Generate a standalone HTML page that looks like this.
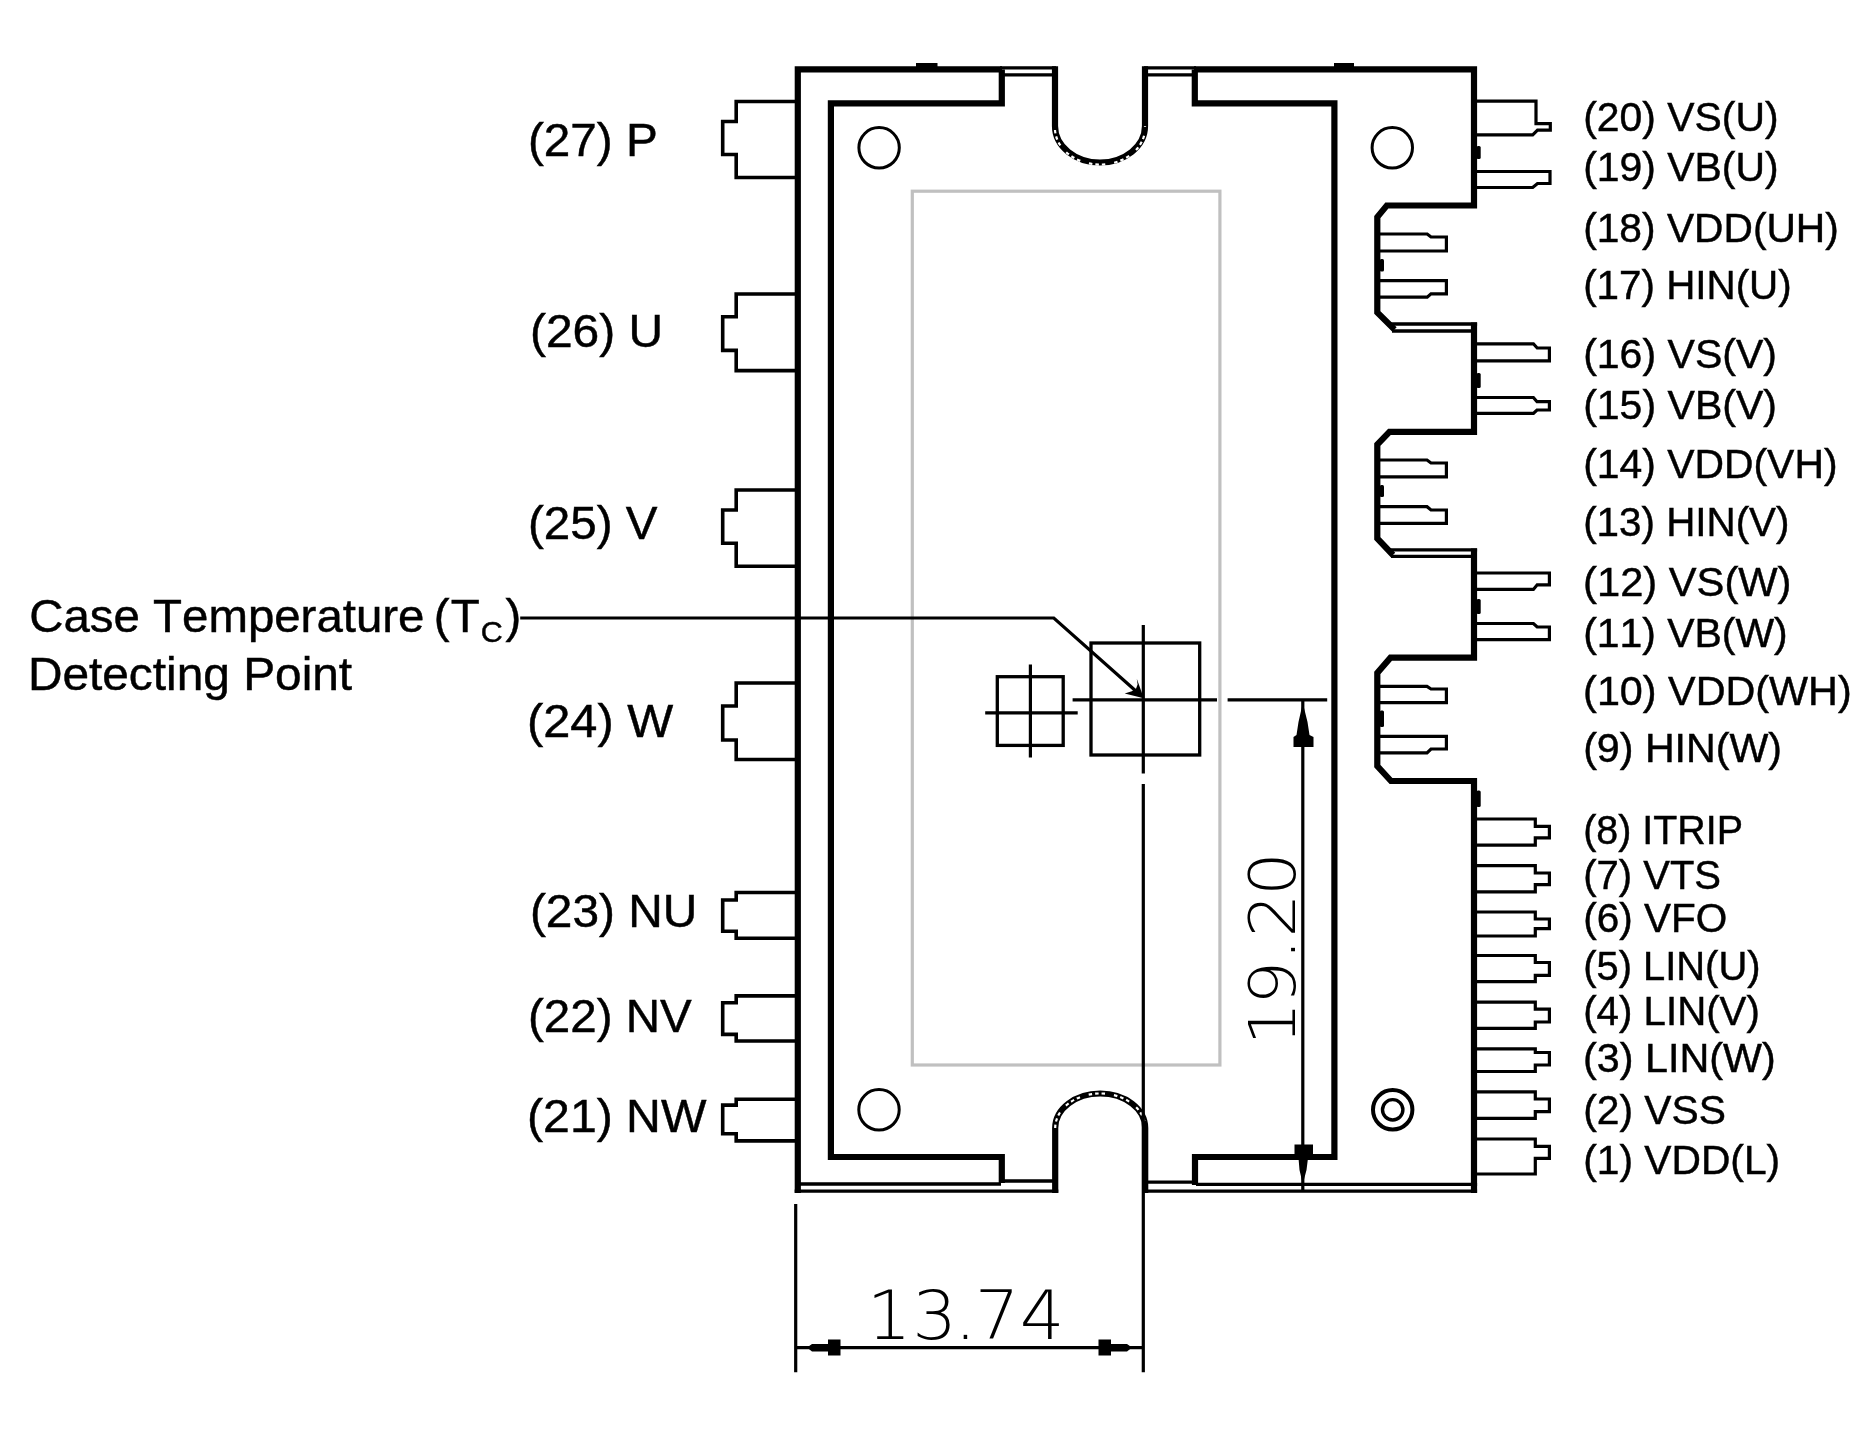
<!DOCTYPE html>
<html><head><meta charset="utf-8"><title>Pin layout</title>
<style>
html,body{margin:0;padding:0;background:#fff;}
body{width:1876px;height:1431px;overflow:hidden;}
svg{display:block;will-change:transform;}
text{font-family:"Liberation Sans",sans-serif;fill:#000;font-kerning:none;stroke:#000;stroke-width:0.45px;}
.k{stroke:#000;fill:none;stroke-linejoin:miter;stroke-linecap:butt;}
.dim{font-family:"DejaVu Sans Light","DejaVu Sans",sans-serif;font-weight:200;stroke:none;}
</style></head><body>
<svg width="1876" height="1431" viewBox="0 0 1876 1431">
<rect x="0" y="0" width="1876" height="1431" fill="#fff"/>
<g>

<rect x="912.3" y="191.2" width="307.6" height="873.8" fill="none" stroke="#c0c0c0" stroke-width="3.2"/>
<g class="k" stroke-width="6.2">
<path d="M797.8,1193 V69.4 H1002"/>
<path d="M1194,69.4 H1474.0 V205.5 H1386.8 L1377.3,217 V312.5 L1394.5,329.5"/>
<path d="M1474.0,322.5 V431.8 H1389.5 L1377.3,444.5 V538.5 L1393,555"/>
<path d="M1474.0,548.4 V657.7 H1390.5 L1377.3,673 V766 L1391,781 H1474.0 V1193"/>
<path d="M1001.8,69.4 V103.3 H830.9 V1157 H1001.8 V1183"/>
<path d="M1194.8,69.4 V103.3 H1334.4 V1157 H1195 V1185"/>
<path d="M1055,66.3 V126 A45,36.5 0 0 0 1145,126 V66.3"/>
<path d="M1055.2,1193 V1128 A45,34.5 0 0 1 1145.2,1128 V1193"/>
</g>
<g fill="none" stroke="#fff" stroke-width="2.2" stroke-dasharray="3.5 3 3.5 3 3.5 9">
<path d="M1055,130 A45,36.5 0 0 0 1145,126"/>
<path d="M1055.2,1128 A45,34.5 0 0 1 1145.2,1128"/>
</g>
<g class="k" stroke-width="3.3">
<path d="M1000,67.8 H1056 M1003,74.9 H1056 M1144,67.8 H1196 M1144,74.9 H1194"/>
<path d="M1388,324 H1477.1 M1392,331 H1472.0"/>
<path d="M1387.5,549.9 H1477.1 M1391,556.4 H1472.0"/>
<path d="M796,1184 H1001 M1003,1181 H1054 M794.7,1191.1 H1058.3"/>
<path d="M1146,1182.2 H1193 M1196,1184.4 H1477.1 M1142.1,1191.1 H1477.1"/>
</g>
<g fill="#000">
<rect x="916" y="63" width="21.5" height="4"/>
<rect x="1334" y="63" width="20" height="4"/>
<rect x="1476.5" y="146" width="4.2" height="13" rx="1.5"/>
<rect x="1379.8" y="259" width="4.2" height="12.5" rx="1.5"/>
<rect x="1476.5" y="373" width="4.2" height="15" rx="1.5"/>
<rect x="1379.8" y="485" width="4.2" height="12" rx="1.5"/>
<rect x="1476.5" y="599" width="4.2" height="15" rx="1.5"/>
<rect x="1379.8" y="710.5" width="4.2" height="16.5" rx="1.5"/>
<rect x="1476.5" y="790.5" width="4.2" height="16.5" rx="1.5"/>
</g>
<g class="k" stroke-width="3">
<circle cx="879.1" cy="147.8" r="20.2"/>
<circle cx="1392.3" cy="147.8" r="20.2"/>
<circle cx="879" cy="1109.8" r="20.2"/>
</g>
<circle class="k" cx="1392.7" cy="1109.8" r="19.7" stroke-width="4"/>
<circle class="k" cx="1392.7" cy="1109.8" r="10.2" stroke-width="3.4"/>
<g class="k" stroke-width="3.2">
<path d="M1476.0,101.2 H1536 V123.6 H1550.3 V130.2 H1537.5 L1532.7,134.8 H1476.0"/>
<path d="M1476.0,171.5 H1550 V183.5 H1537.5 L1532.7,187.5 H1476.0"/>
<path d="M1379.5,234 H1427.2 L1431,237 H1446.4 V251 H1379.5"/>
<path d="M1379.5,280.7 H1446.4 V293.9 H1431 L1427.2,297.2 H1379.5"/>
<path d="M1476.0,343.8 H1533.4 L1537.2,348 H1549.4 V360.8 H1476.0"/>
<path d="M1476.0,397.5 H1533.4 L1537,401.7 H1549.4 V410 H1537 L1533.4,413.4 H1476.0"/>
<path d="M1379.5,460 H1427 L1431,463 H1446.4 V476.8 H1379.5"/>
<path d="M1379.5,506.7 H1427 L1431,510 H1446.4 V523.4 H1379.5"/>
<path d="M1476.0,573 H1549.4 V584.8 H1537.2 L1533.4,589.4 H1476.0"/>
<path d="M1476.0,623.5 H1533.4 L1537.2,627 H1549.4 V639.6 H1476.0"/>
<path d="M1379.5,686.4 H1427 L1431,689 H1446.4 V702.7 H1379.5"/>
<path d="M1379.5,736.4 H1446.4 V749 H1431 L1427,752.8 H1379.5"/>
<path d="M1476.0,819 H1535.3 V826.4 H1549.4 V837.9 H1535.3 V845.2 H1476.0"/>
<path d="M1476.0,865.7 H1535.3 V873 H1549.4 V884.6 H1535.3 V891.9 H1476.0"/>
<path d="M1476.0,912 H1535.3 V919 H1549.4 V928.7 H1535.3 V936 H1476.0"/>
<path d="M1476.0,955.5 H1535.3 V962.5 H1549.4 V975.3 H1535.3 V981.7 H1476.0"/>
<path d="M1476.0,1002.2 H1535.3 V1009.2 H1549.4 V1022 H1535.3 V1028.4 H1476.0"/>
<path d="M1476.0,1048.8 H1535.3 V1052.5 H1549.4 V1065 H1535.3 V1071.5 H1476.0"/>
<path d="M1476.0,1091.9 H1535.3 V1099 H1549.4 V1111.7 H1535.3 V1118.4 H1476.0"/>
<path d="M1476.0,1139 H1535.3 V1146.3 H1549.4 V1158.4 H1535.3 V1174 H1476.0"/>
</g>
<g class="k" stroke-width="3.6">
<path d="M795.5,101.5 H736.2 V121.5 H722.7 V154.5 H736.2 V177.5 H795.5"/>
<path d="M795.5,294 H736.2 V316.8 H722.7 V350.4 H736.2 V370.6 H795.5"/>
<path d="M795.5,490 H736.2 V510 H722.7 V543.2 H736.2 V566.3 H795.5"/>
<path d="M795.5,683 H736.2 V706 H722.7 V740 H736.2 V759.5 H795.5"/>
<path d="M795.5,892.5 H736.2 V900 H722.7 V931.2 H736.2 V938.2 H795.5"/>
<path d="M795.5,995.9 H736.2 V1002.8 H722.7 V1034.4 H736.2 V1041 H795.5"/>
<path d="M795.5,1099.2 H736.2 V1105.1 H722.7 V1133.7 H736.2 V1140.9 H795.5"/>
</g>
<g class="k" stroke-width="3.3">
<rect x="1091" y="643" width="108.7" height="112"/>
<rect x="997.3" y="676.7" width="65.9" height="68.7"/>
</g>
<g class="k" stroke-width="3.2">
<path d="M1143.3,625 V773.5 M1143.3,784 V1372.3"/>
<path d="M1072.6,699.8 H1217 M1227.6,699.8 H1327.2"/>
<path d="M1030.4,664.6 V757.4 M985.2,712.9 H1077.7"/>
<path d="M520.2,618 H1053.8 L1141.5,696"/>
<path d="M1302.8,701 V1191"/>
<path d="M795.7,1204 V1372.3 M795.7,1347.6 H1143.3"/>
</g>
<g fill="#000">
<path d="M1143.8,698.2 L1124.7,693.6 L1131.8,691.2 L1136,688.8 L1137.6,684.5 L1136.8,678.8 Z"/>
<path d="M1302.8,703 L1307.5,722 L1309.5,735 L1313.5,737 V747 H1293.5 V737 L1296.5,735 L1298.5,722 Z"/>
<path d="M1302.8,1184 L1306.5,1170 L1308,1158 L1313,1156 V1144.5 H1294.5 V1156 L1298.5,1158 L1299.5,1170 Z"/>
<path d="M807,1347.6 L812,1344 H828 V1339.5 H840.5 V1355.5 H828 V1351.5 H812 Z"/>
<path d="M1132,1347.6 L1127,1344 H1111 V1339.5 H1098.5 V1355.5 H1111 V1351.5 H1127 Z"/>
</g>
<text transform="translate(527.95,156.4) scale(1.0409,1)" font-size="45.8">(27) P</text>
<text transform="translate(529.94,347.1) scale(1.0464,1)" font-size="45.8">(26) U</text>
<text transform="translate(527.96,539.4) scale(1.0387,1)" font-size="45.8">(25) V</text>
<text transform="translate(527.00,736.6) scale(1.0638,1)" font-size="45.8">(24) W</text>
<text transform="translate(529.95,927.1) scale(1.0443,1)" font-size="45.8">(23) NU</text>
<text transform="translate(527.96,1032.1) scale(1.0389,1)" font-size="45.8">(22) NV</text>
<text transform="translate(527.03,1131.7) scale(1.0525,1)" font-size="45.8">(21) NW</text>
<text transform="translate(0,631.6) scale(1.031,1)" font-size="46"><tspan x="28.34">Case Temperature </tspan><tspan x="420.6">(</tspan><tspan x="437.1">T</tspan><tspan x="466.3" dy="10.2" font-size="29.5">C</tspan><tspan x="490.3" dy="-10.2">)</tspan></text>
<text transform="translate(27.88,689.9) scale(1.0398,1)" font-size="46">Detecting Point</text>
<text transform="translate(1583.14,130.5) scale(1.0228,1)" font-size="40">(20) VS(U)</text>
<text transform="translate(1583.14,181) scale(1.0228,1)" font-size="40">(19) VB(U)</text>
<text transform="translate(1583.15,241.7) scale(1.0185,1)" font-size="40">(18) VDD(UH)</text>
<text transform="translate(1583.17,299) scale(1.0090,1)" font-size="40">(17) HIN(U)</text>
<text transform="translate(1583.13,368) scale(1.0262,1)" font-size="40">(16) VS(V)</text>
<text transform="translate(1583.13,419.4) scale(1.0262,1)" font-size="40">(15) VB(V)</text>
<text transform="translate(1583.14,478.3) scale(1.0222,1)" font-size="40">(14) VDD(VH)</text>
<text transform="translate(1583.17,536.4) scale(1.0091,1)" font-size="40">(13) HIN(V)</text>
<text transform="translate(1583.10,595.5) scale(1.0422,1)" font-size="40">(12) VS(W)</text>
<text transform="translate(1583.14,646.9) scale(1.0233,1)" font-size="40">(11) VB(W)</text>
<text transform="translate(1583.12,705) scale(1.0335,1)" font-size="40">(10) VDD(WH)</text>
<text transform="translate(1583.13,762.2) scale(1.0297,1)" font-size="40">(9) HIN(W)</text>
<text transform="translate(1583.22,844.4) scale(0.9846,1)" font-size="40">(8) ITRIP</text>
<text transform="translate(1583.19,888.9) scale(1.0008,1)" font-size="40">(7) VTS</text>
<text transform="translate(1583.16,932.4) scale(1.0131,1)" font-size="40">(6) VFO</text>
<text transform="translate(1583.19,979.7) scale(0.9979,1)" font-size="40">(5) LIN(U)</text>
<text transform="translate(1583.18,1025) scale(1.0065,1)" font-size="40">(4) LIN(V)</text>
<text transform="translate(1583.12,1072.2) scale(1.0325,1)" font-size="40">(3) LIN(W)</text>
<text transform="translate(1583.15,1123.8) scale(1.0192,1)" font-size="40">(2) VSS</text>
<text transform="translate(1583.15,1174) scale(1.0191,1)" font-size="40">(1) VDD(L)</text>
<text class="dim" transform="translate(0,1339.3) scale(1.05,1)" x="825.6 868.9 908.9 928.4 971.3" y="0" font-size="67">13.74</text>
<text class="dim" transform="translate(1294.7,1040) rotate(-90) scale(1.07,1)" x="-5.2 32.9 74.3 95.7 134.7" y="0" font-size="64.5">19.20</text>
</g>
</svg></body></html>
